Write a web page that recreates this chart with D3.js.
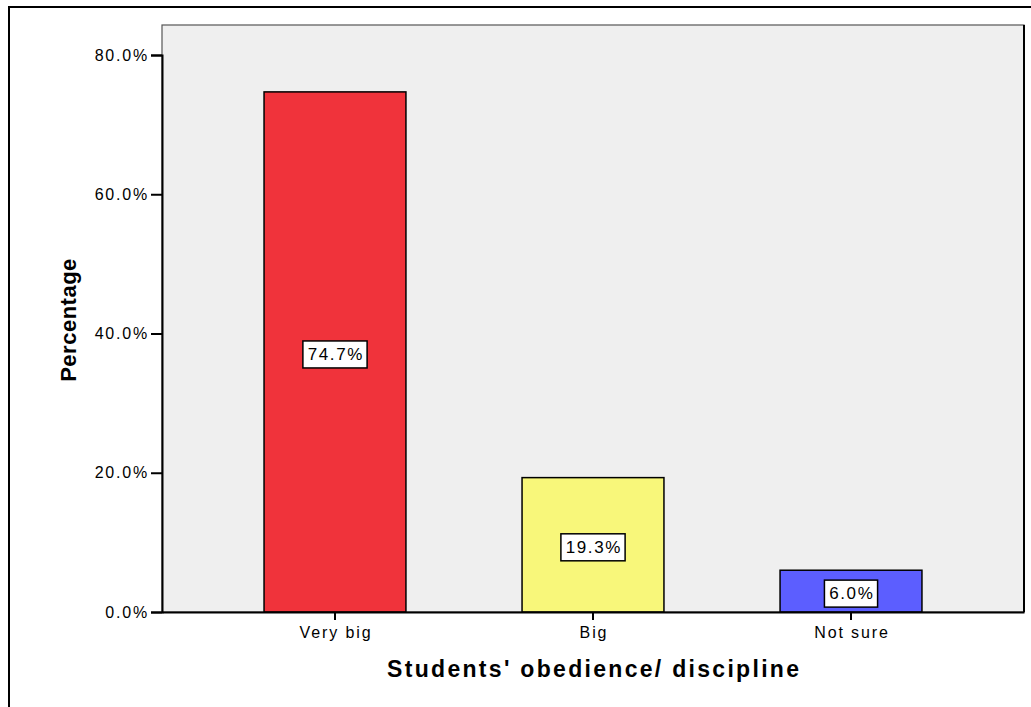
<!DOCTYPE html>
<html lang="en">
<head>
	<meta charset="UTF-8">
	<title>Students' obedience/ discipline</title>
	<script src="https://d3js.org/d3.v7.min.js"></script>
	<style>
		body { margin: 0; background: #fff; }
		text { font-family: "Liberation Sans", Arial, sans-serif; }
	</style>
</head>
<body>
	<svg id="chart" width="1031" height="707"></svg>
	<script>
		// data
		const categories = ["Very big", "Big", "Not sure"];
		const percents = [74.7, 19.3, 6.0];
		const barColors = ["#f0333b", "#f8f77a", "#5c5eff"];
		const yTicks = [0, 20, 40, 60, 80];

		const svg = d3.select("#chart");
		const plot = { left: 162, right: 1024, top: 25, bottom: 612 };
		const FONT = "Liberation Sans, Arial, sans-serif";

		// outer frame (top + left lines)
		svg.append("path")
			.attr("d", "M9,707 L9,7 L1031,7")
			.attr("fill", "none")
			.attr("stroke", "#000")
			.attr("stroke-width", 2);

		// plot background
		svg.append("rect")
			.attr("x", plot.left)
			.attr("y", plot.top)
			.attr("width", plot.right - plot.left)
			.attr("height", plot.bottom - plot.top)
			.attr("fill", "#efefef")
			.attr("stroke", "#555")
			.attr("stroke-width", 1.2);
		// darker right edge
		svg.append("line")
			.attr("x1", plot.right).attr("x2", plot.right)
			.attr("y1", plot.top).attr("y2", plot.bottom)
			.attr("stroke", "#000").attr("stroke-width", 2);

		const x = d3.scaleBand()
			.domain(categories)
			.range([plot.left, plot.right])
			.paddingInner(0.45)
			.paddingOuter(0.3955);

		const y = d3.scaleLinear()
			.domain([0, 80])
			.range([plot.bottom, 55]);

		// bars
		svg.selectAll("rect.bar")
			.data(categories)
			.join("rect")
			.attr("class", "bar")
			.attr("x", d => x(d))
			.attr("y", (d, i) => y(percents[i]))
			.attr("width", x.bandwidth())
			.attr("height", (d, i) => y(0) - y(percents[i]))
			.attr("fill", (d, i) => barColors[i])
			.attr("stroke", "#000")
			.attr("stroke-width", 1.5);

		// value labels in boxes
		const lab = svg.selectAll("g.lab")
			.data(categories)
			.join("g")
			.attr("class", "lab")
			.attr("transform", (d, i) => `translate(${x(d) + x.bandwidth() / 2},${(y(percents[i]) + y(0)) / 2 + 2})`);
		lab.append("text")
			.attr("text-anchor", "middle")
			.attr("dy", "0.36em")
			.attr("dx", 0.8)
			.attr("font-size", 17)
			.attr("letter-spacing", 1.6)
			.text((d, i) => percents[i].toFixed(1) + "%");
		lab.each(function () {
			const g = d3.select(this);
			const b = g.select("text").node().getBBox();
			const w = b.width + 8;
			g.insert("rect", "text")
				.attr("x", -w / 2)
				.attr("y", -13)
				.attr("width", w)
				.attr("height", 27)
				.attr("fill", "#fff")
				.attr("stroke", "#000")
				.attr("stroke-width", 1.5);
		});

		// y axis
		const yAxis = svg.append("g")
			.attr("transform", `translate(${plot.left},0)`)
			.call(d3.axisLeft(y).tickValues(yTicks).tickSize(11).tickPadding(2)
				.tickFormat(d => d.toFixed(1) + "%"));
		yAxis.select(".domain").attr("stroke", "#000").attr("stroke-width", 2);
		yAxis.selectAll(".tick line").attr("stroke", "#000").attr("stroke-width", 2);
		yAxis.selectAll(".tick text").attr("font-size", 16).attr("fill", "#000")
			.attr("letter-spacing", 1.8)
			.attr("font-family", FONT);

		// x axis
		const xAxis = svg.append("g")
			.attr("transform", `translate(0,${plot.bottom})`)
			.call(d3.axisBottom(x).tickSize(8).tickPadding(7).tickSizeOuter(0));
		xAxis.select(".domain").attr("stroke", "#000").attr("stroke-width", 2);
		xAxis.selectAll(".tick line").attr("stroke", "#000").attr("stroke-width", 2);
		xAxis.selectAll(".tick text").attr("font-size", 16).attr("fill", "#000")
			.attr("letter-spacing", 1.9)
			.attr("dx", 1)
			.attr("font-family", FONT);

		// axis titles
		svg.append("text")
			.attr("x", (plot.left + plot.right) / 2 + 1.2)
			.attr("y", 677)
			.attr("text-anchor", "middle")
			.attr("font-size", 23)
			.attr("font-weight", "bold")
			.attr("letter-spacing", 2.3)
			.text("Students' obedience/ discipline");

		svg.append("text")
			.attr("transform", "translate(76,320) rotate(-90)")
			.attr("text-anchor", "middle")
			.attr("font-size", 22)
			.attr("font-weight", "bold")
			.attr("letter-spacing", 0.5)
			.text("Percentage");
	</script>
</body>
</html>
